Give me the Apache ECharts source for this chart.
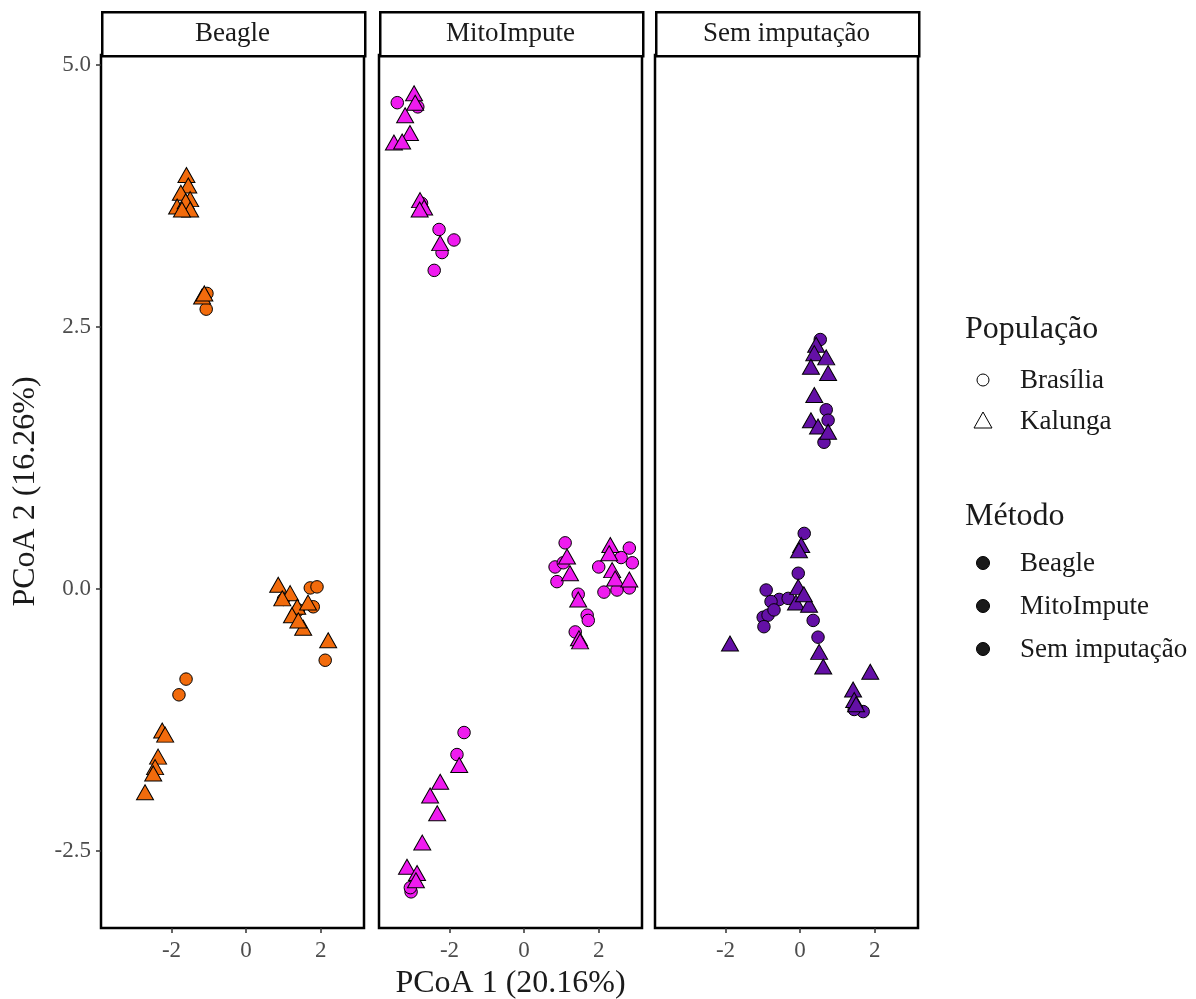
<!DOCTYPE html>
<html>
<head>
<meta charset="utf-8">
<script src="https://cdn.jsdelivr.net/npm/echarts@6/dist/echarts.min.js"></script>
<style>
  html, body { margin: 0; padding: 0; background: #fff; }
  #chart { width: 1196px; height: 999px; }
</style>
</head>
<body>
<div id="chart"></div>
<script>
// PCoA coordinates per imputation method and population: [PCoA 1, PCoA 2]
const methods = ['Beagle', 'MitoImpute', 'Sem imputação'];
const populations = ['Brasília', 'Kalunga'];
const methodColors = ['#F26B0C', '#EF1BEF', '#6410A6'];

const beagleBrasilia = [[-1.05,2.82],[-1.07,2.67],[1.72,0.01],[1.9,0.02],[1.0,-0.1],[1.8,-0.17],[1.4,-0.2],[2.12,-0.68],[-1.61,-0.86],[-1.8,-1.01]];
const beagleKalunga = [[-1.6,3.95],[-1.55,3.85],[-1.75,3.78],[-1.5,3.72],[-1.85,3.65],[-1.62,3.7],[-1.5,3.62],[-1.72,3.62],[-1.18,2.79],[-1.12,2.82],[0.86,0.04],[1.18,-0.04],[0.97,-0.09],[1.37,-0.17],[1.66,-0.13],[1.23,-0.25],[1.53,-0.37],[1.4,-0.3],[2.2,-0.49],[-2.25,-1.35],[-2.17,-1.39],[-2.36,-1.6],[-2.44,-1.7],[-2.49,-1.76],[-2.71,-1.94]];

const mitoBrasilia = [[-3.4,4.64],[-2.85,4.6],[-2.75,3.68],[-2.28,3.43],[-1.88,3.33],[-2.2,3.21],[-2.41,3.04],[1.1,0.44],[0.83,0.21],[0.88,0.07],[1.05,0.25],[2.82,0.39],[2.0,0.21],[2.9,0.25],[2.14,-0.03],[2.49,-0.01],[2.82,0.01],[2.6,0.3],[1.45,-0.05],[1.69,-0.25],[1.72,-0.3],[1.37,-0.41],[-1.61,-1.37],[-1.8,-1.58],[-3.03,-2.89],[-3.05,-2.85]];
const mitoKalunga = [[-2.95,4.73],[-2.92,4.64],[-3.19,4.52],[-3.06,4.35],[-3.49,4.26],[-3.27,4.27],[-2.79,3.71],[-2.68,3.64],[-2.8,3.62],[-2.25,3.3],[1.15,0.31],[1.23,0.15],[2.31,0.42],[2.28,0.34],[2.36,0.18],[2.44,0.1],[2.82,0.09],[1.45,-0.1],[1.47,-0.47],[1.5,-0.5],[-1.74,-1.68],[-2.25,-1.84],[-2.52,-1.97],[-2.33,-2.14],[-2.73,-2.42],[-3.14,-2.65],[-2.87,-2.71],[-2.9,-2.78]];

const semBrasilia = [[0.54,2.38],[0.7,1.71],[0.75,1.61],[0.64,1.4],[0.11,0.53],[-0.05,0.15],[0.35,-0.3],[-0.91,-0.01],[-0.56,-0.1],[-0.78,-0.12],[-0.99,-0.27],[-0.86,-0.25],[-0.97,-0.36],[-0.32,-0.09],[-0.7,-0.2],[0.48,-0.46],[1.69,-1.17],[1.45,-1.15]];
const semKalunga = [[0.43,2.33],[0.38,2.25],[0.7,2.21],[0.29,2.12],[0.75,2.06],[0.38,1.85],[0.29,1.61],[0.48,1.55],[0.75,1.5],[0.03,0.42],[-0.03,0.37],[-0.05,0.02],[-0.11,-0.13],[0.24,-0.15],[0.1,-0.05],[-1.88,-0.52],[0.51,-0.6],[0.62,-0.74],[1.88,-0.79],[1.42,-0.96],[1.45,-1.06],[1.5,-1.1]];

const xTicks = [-2, 0, 2];
const yTicks = [-2.5, 0, 2.5, 5];

const panelData = [
  [beagleBrasilia, beagleKalunga],
  [mitoBrasilia, mitoKalunga],
  [semBrasilia, semKalunga]
];

const FONT = '"Liberation Serif", "DejaVu Serif", serif';
const panelLeft = [101, 379, 655];
const panelWidth = 263;
const panelTop = 55;
const panelHeight = 873;
const stripTop = 11;

const grids = [], xAxes = [], yAxes = [], series = [], graphics = [];

methods.forEach((m, i) => {
  grids.push({
    left: panelLeft[i], top: panelTop, width: panelWidth, height: panelHeight,
    outerBoundsMode: 'none', containLabel: false,
    show: true, borderColor: '#000', borderWidth: 2.5, backgroundColor: '#fff'
  });
  xAxes.push({
    gridIndex: i, type: 'value', min: -3.89, max: 3.16,
    axisLine: { show: false, onZero: false },
    axisTick: { show: true, length: 5, lineStyle: { color: '#333', width: 1.5 }, customValues: xTicks },
    axisLabel: { show: true, customValues: xTicks, margin: 11, color: '#4D4D4D', fontFamily: FONT, fontSize: 23 },
    splitLine: { show: false },
    name: i === 1 ? 'PCoA 1 (20.16%)' : '',
    nameLocation: 'middle', nameGap: 40,
    nameTextStyle: { fontFamily: FONT, fontSize: 32, color: '#1A1A1A' }
  });
  yAxes.push({
    gridIndex: i, type: 'value', min: -3.235, max: 5.095,
    axisLine: { show: false, onZero: false },
    axisTick: { show: i === 0, length: 5, lineStyle: { color: '#333', width: 1.5 }, customValues: yTicks },
    axisLabel: { show: i === 0, customValues: yTicks, margin: 10, color: '#4D4D4D', fontFamily: FONT, fontSize: 23,
      formatter: v => v.toFixed(1) },
    splitLine: { show: false },
    name: i === 0 ? 'PCoA 2 (16.26%)' : '',
    nameLocation: 'middle', nameGap: 59, nameRotate: 90,
    nameTextStyle: { fontFamily: FONT, fontSize: 32, color: '#1A1A1A' }
  });
  populations.forEach((p, j) => {
    series.push({
      type: 'scatter', name: m + ' - ' + p,
      xAxisIndex: i, yAxisIndex: i,
      data: panelData[i][j],
      symbol: j === 0 ? 'circle' : 'triangle',
      symbolSize: j === 0 ? 12.5 : [17, 15],
      itemStyle: { color: methodColors[i], borderColor: '#000', borderWidth: 1, opacity: 1 },
      z: 3 + j
    });
  });
  // facet strip
  graphics.push({
    type: 'rect', left: panelLeft[i], top: stripTop,
    shape: { width: panelWidth, height: panelTop - stripTop },
    style: { fill: '#fff', stroke: '#000', lineWidth: 2.5 }
  });
  graphics.push({
    type: 'text', x: panelLeft[i] + panelWidth / 2, y: (stripTop + panelTop) / 2 + 1,
    style: { text: m, fill: '#1A1A1A', font: '27px ' + FONT, textAlign: 'center', textVerticalAlign: 'middle' }
  });
});

// legends: shape by population, fill by method
const legX = 983, legTextX = 1020;
graphics.push({ type: 'text', x: 965, y: 330,
  style: { text: 'População', fill: '#1A1A1A', font: '32px ' + FONT, textVerticalAlign: 'middle' } });
graphics.push({ type: 'circle', shape: { cx: legX, cy: 380, r: 6 }, style: { fill: '#fff', stroke: '#000', lineWidth: 1 } });
graphics.push({ type: 'polygon', shape: { points: [[legX, 412], [legX + 9, 428], [legX - 9, 428]] }, style: { fill: '#fff', stroke: '#000', lineWidth: 1 } });
populations.forEach((p, j) => {
  graphics.push({ type: 'text', x: legTextX, y: 381 + j * 41,
    style: { text: p, fill: '#1A1A1A', font: '27px ' + FONT, textVerticalAlign: 'middle' } });
});
graphics.push({ type: 'text', x: 965, y: 517,
  style: { text: 'Método', fill: '#1A1A1A', font: '32px ' + FONT, textVerticalAlign: 'middle' } });
methods.forEach((m, i) => {
  const y = 563 + i * 43;
  graphics.push({ type: 'circle', shape: { cx: legX, cy: y, r: 6.5 }, style: { fill: '#1A1A1A', stroke: '#000', lineWidth: 1 } });
  graphics.push({ type: 'text', x: legTextX, y: y + 1,
    style: { text: m, fill: '#1A1A1A', font: '27px ' + FONT, textVerticalAlign: 'middle' } });
});

const chart = echarts.init(document.getElementById('chart'), null, { renderer: 'canvas' });
chart.setOption({
  backgroundColor: '#fff',
  animation: false,
  grid: grids,
  xAxis: xAxes,
  yAxis: yAxes,
  series: series,
  graphic: graphics
});
</script>
</body>
</html>
